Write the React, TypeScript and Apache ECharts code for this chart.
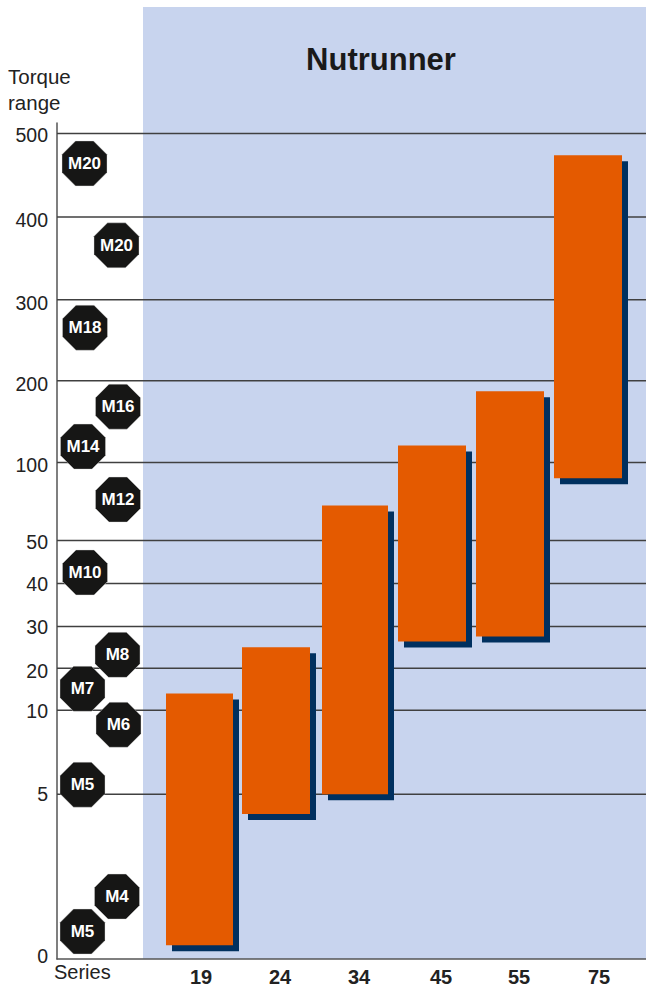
import React, { useEffect, useRef } from "react";
import * as echarts from "echarts";

// Torque axis: non-uniform, each tick has its own height on the chart
const tickLabels = ["0", "5", "10", "20", "30", "40", "50", "100", "200", "300", "400", "500"];
const tickTorque = [0, 5, 10, 20, 30, 40, 50, 100, 200, 300, 400, 500];
const tickPosition = [0, 165, 249, 291, 333, 376, 419, 497, 579, 660, 743, 826.5];
const labelPosition = [3, 165, 248, 288, 332, 375, 417, 495, 576, 657, 740, 825];

const seriesNames = ["19", "24", "34", "45", "55", "75"];
const seriesLabelX = [144, 223, 302, 384, 462, 542];
const barLeft = [109, 185, 265, 341, 419, 497];
const barRight = [176, 253, 331, 409, 487, 565];
const torqueLow = [0.42, 4.4, 5, 26.4, 27.6, 90];
const torqueHigh = [14, 25, 72.4, 121, 187, 474];

const boltLabels = ["M20", "M20", "M18", "M16", "M14", "M12", "M10", "M8", "M7", "M6", "M5", "M4", "M5"];
const boltX = [27.5, 59.5, 28, 61, 26, 61, 28, 60.5, 25.5, 61.5, 25.5, 60, 25.5];
const boltPosition = [796.5, 714.5, 632, 553, 513, 460, 387, 304.5, 270.5, 234.5, 174.5, 62.5, 27.5];

const PANEL = "#C8D4EE";
const ORANGE = "#E45A00";
const SHADOW = "#00305F";
const LINE = "#404040";
const INK = "#222222";
const FONT = '"Liberation Sans", Arial, sans-serif';
const OCTAGON = "path://M30 0L70 0L100 30L100 70L70 100L30 100L0 70L0 30Z";

// Torque value -> chart height along the piecewise axis
function toPosition(v: number): number {
  for (let i = 1; i < tickTorque.length; i++) {
    if (v <= tickTorque[i]) {
      const t = (v - tickTorque[i - 1]) / (tickTorque[i] - tickTorque[i - 1]);
      return tickPosition[i - 1] + t * (tickPosition[i] - tickPosition[i - 1]);
    }
  }
  return tickPosition[tickPosition.length - 1];
}

export default function App() {
  const ref = useRef<HTMLDivElement>(null);
  useEffect(() => {
    const chart = echarts.init(ref.current!, null, { renderer: "svg" });
    chart.setOption({
      animation: false,
      backgroundColor: "#ffffff",
      title: {
        text: "Nutrunner",
        left: 376,
        top: 39,
        textAlign: "center",
        textStyle: { fontFamily: FONT, fontWeight: "bold", fontSize: 31, color: "#1a1a1a" },
      },
      grid: [
        { left: 57, right: 0, top: 123, bottom: 27, show: false, containLabel: false },
        { left: 143, right: 0, top: 7, bottom: 28, show: true, backgroundColor: PANEL, borderWidth: 0 },
      ],
      graphic: [
        { type: "text", x: 8, y: 66, style: { text: "Torque", fontFamily: FONT, fontSize: 20.5, fill: INK } },
        { type: "text", x: 8, y: 92, style: { text: "range", fontFamily: FONT, fontSize: 20.5, fill: INK } },
        { type: "text", x: 54, y: 962, style: { text: "Series", fontFamily: FONT, fontSize: 20, fill: INK } },
      ],
      xAxis: {
        type: "value",
        min: 0,
        max: 589,
        splitLine: { show: false },
        axisTick: { show: false },
        axisLine: { show: true, lineStyle: { color: "#555555", width: 1.5 } },
        axisLabel: {
          customValues: seriesLabelX,
          formatter: (v: number) => seriesNames[seriesLabelX.indexOf(v)] ?? "",
          margin: 8,
          fontFamily: FONT,
          fontWeight: "bold",
          fontSize: 20,
          color: INK,
        },
      },
      yAxis: {
        type: "value",
        min: 0,
        max: 837,
        splitLine: { show: false },
        axisTick: { show: false },
        axisLine: { show: true, onZero: false, lineStyle: { color: "#555555", width: 1.5 } },
        axisLabel: {
          customValues: labelPosition,
          formatter: (v: number) => tickLabels[labelPosition.indexOf(v)] ?? "",
          margin: 9,
          fontFamily: FONT,
          fontSize: 19.5,
          color: INK,
        },
      },
      series: [
        {
          type: "custom",
          name: "grid lines",
          z: 1,
          silent: true,
          clip: false,
          data: tickPosition.slice(1).map((p) => [p]),
          renderItem: (_: any, api: any) => {
            const a = api.coord([0, api.value(0)]);
            const b = api.coord([589, api.value(0)]);
            return {
              type: "line",
              shape: { x1: a[0], y1: a[1], x2: b[0], y2: b[1] },
              style: { stroke: LINE, lineWidth: 1.5 },
            };
          },
        },
        {
          type: "custom",
          name: "torque range",
          z: 3,
          clip: false,
          data: seriesNames.map((_, i) => [barLeft[i], barRight[i], toPosition(torqueLow[i]), toPosition(torqueHigh[i])]),
          renderItem: (_: any, api: any) => {
            const tl = api.coord([api.value(0), api.value(3)]);
            const br = api.coord([api.value(1), api.value(2)]);
            const shape = { x: tl[0], y: tl[1], width: br[0] - tl[0], height: br[1] - tl[1] };
            return {
              type: "group",
              children: [
                { type: "rect", shape: { ...shape, x: shape.x + 6, y: shape.y + 6 }, style: { fill: SHADOW } },
                { type: "rect", shape, style: { fill: ORANGE } },
              ],
            };
          },
        },
        {
          type: "scatter",
          name: "bolts",
          z: 4,
          clip: false,
          symbol: OCTAGON,
          symbolSize: 45,
          itemStyle: { color: "#161615", opacity: 1, borderColor: "#dddddd", borderWidth: 0.4 },
          label: {
            show: true,
            position: "inside",
            formatter: (p: any) => p.name,
            fontFamily: FONT,
            fontWeight: "bold",
            fontSize: 17,
            color: "#ffffff",
          },
          data: boltLabels.map((name, i) => ({ name, value: [boltX[i], boltPosition[i]] })),
        },
      ],
    });
    return () => chart.dispose();
  }, []);
  return <div ref={ref} style={{ position: "absolute", left: 0, top: 0, width: 646, height: 987 }} />;
}
